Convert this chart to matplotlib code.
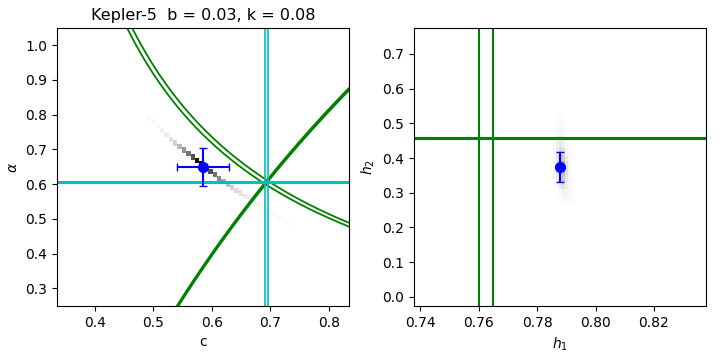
import numpy as np
import matplotlib.pyplot as plt

# Kepler-5 power-2 limb darkening: fitted values and table values
c_fit, c_err = 0.585, 0.044
alpha_fit, alpha_err = 0.649, 0.056
h1_fit, h1_err = 0.7879, 0.0008
h2_fit, h2_err = 0.374, 0.043

c_tab = [0.6903, 0.6955]       # cyan lines
alpha_tab = [0.6035, 0.6062]
h1_lines = [0.7603, 0.7648]    # green lines
h2_lines = [0.4548, 0.4565]

# posterior histogram in (c, alpha), one cell per column
band_c = [0.4925, 0.5000, 0.5075, 0.5150, 0.5225, 0.5300, 0.5375, 0.5450,
          0.5525, 0.5600, 0.5675, 0.5750, 0.5825, 0.5900, 0.5975, 0.6050,
          0.6125, 0.6200, 0.6275, 0.6350, 0.6425, 0.6500, 0.6575, 0.6650,
          0.6725, 0.6800, 0.6875, 0.6950, 0.7025, 0.7100, 0.7175, 0.7250,
          0.7325, 0.7400]
band_alpha = [0.792, 0.780, 0.768, 0.755, 0.742, 0.729, 0.718, 0.708,
              0.698, 0.688, 0.678, 0.668, 0.658, 0.648, 0.637, 0.627,
              0.616, 0.607, 0.599, 0.590, 0.582, 0.574, 0.565, 0.557,
              0.549, 0.541, 0.533, 0.525, 0.517, 0.509, 0.501, 0.494,
              0.486, 0.479]
band_w = [0.04, 0.06, 0.08, 0.11, 0.15, 0.20, 0.28, 0.38, 0.50, 0.62,
          0.75, 0.92, 1.00, 0.88, 0.76, 0.64, 0.54, 0.44, 0.36, 0.29,
          0.23, 0.19, 0.15, 0.12, 0.10, 0.08, 0.07, 0.06, 0.05, 0.04,
          0.035, 0.03, 0.025, 0.02]

# posterior histogram in (h1, h2), rows from bottom to top
h1_edges = [0.7855, 0.7865, 0.7875, 0.7885, 0.7895, 0.7905, 0.7915, 0.7925, 0.7935]
h2_edges = [0.27, 0.29, 0.31, 0.33, 0.35, 0.37, 0.39, 0.41, 0.43, 0.45,
            0.47, 0.49, 0.51, 0.53]
blob = [[0.00, 0.00, 0.02, 0.04, 0.05, 0.04, 0.02, 0.00],
        [0.00, 0.02, 0.06, 0.10, 0.09, 0.05, 0.03, 0.00],
        [0.02, 0.06, 0.16, 0.20, 0.13, 0.07, 0.03, 0.00],
        [0.04, 0.13, 0.30, 0.32, 0.18, 0.08, 0.03, 0.00],
        [0.06, 0.18, 0.40, 0.38, 0.22, 0.08, 0.02, 0.00],
        [0.07, 0.20, 0.42, 0.40, 0.20, 0.07, 0.02, 0.00],
        [0.06, 0.18, 0.35, 0.30, 0.15, 0.05, 0.01, 0.00],
        [0.05, 0.15, 0.26, 0.20, 0.09, 0.03, 0.00, 0.00],
        [0.04, 0.11, 0.18, 0.12, 0.05, 0.02, 0.00, 0.00],
        [0.03, 0.08, 0.12, 0.08, 0.03, 0.01, 0.00, 0.00],
        [0.02, 0.05, 0.08, 0.05, 0.02, 0.00, 0.00, 0.00],
        [0.01, 0.03, 0.05, 0.03, 0.01, 0.00, 0.00, 0.00],
        [0.00, 0.02, 0.03, 0.02, 0.00, 0.00, 0.00, 0.00]]

fig = plt.figure(figsize=(7.2, 3.6), dpi=100)
ax1 = fig.add_axes([0.079, 0.15, 0.406, 0.772])
ax2 = fig.add_axes([0.575, 0.15, 0.406, 0.772])

# left panel: c vs alpha, histogram cells drawn as bars
ax1.bar(band_c, 0.015, bottom=np.array(band_alpha) - 0.0075, width=0.0075,
        color=plt.cm.Greys(band_w), linewidth=0)

# constraint curves from h1 and h2 (power-2 law relations)
a = np.linspace(0.2, 1.1, 400)
for h1 in h1_lines:
    ax1.plot((1 - h1) / (1 - 2**-a), a, color='g', lw=1.3)
for h2 in h2_lines:
    ax1.plot(h2 * 2**a, a, color='g', lw=1.6)
for cc in c_tab:
    ax1.axvline(cc, color='c', lw=1.2)
for aa in alpha_tab:
    ax1.axhline(aa, color='c', lw=1.5)

ax1.errorbar(c_fit, alpha_fit, xerr=c_err, yerr=alpha_err, fmt='bo',
             ms=7, capsize=3, lw=1.5, zorder=5)
ax1.set_xlim(c_fit - 0.25, c_fit + 0.25)
ax1.set_ylim(alpha_fit - 0.4, alpha_fit + 0.4)
ax1.set_xlabel("c")
ax1.set_ylabel(r"$\alpha$")
ax1.set_title("Kepler-5  b = 0.03, k = 0.08", fontsize=11.5)

# right panel: h1 vs h2
ax2.pcolormesh(h1_edges, h2_edges, np.array(blob), cmap='Greys', vmin=0, vmax=1)
for h1 in h1_lines:
    ax2.axvline(h1, color='g', lw=1.5)
for h2 in h2_lines:
    ax2.axhline(h2, color='g', lw=1.5)
ax2.errorbar(h1_fit, h2_fit, xerr=h1_err, yerr=h2_err, fmt='bo',
             ms=7, capsize=3, lw=1.5, zorder=5)
ax2.set_xlim(h1_fit - 0.05, h1_fit + 0.05)
ax2.set_ylim(h2_fit - 0.4, h2_fit + 0.4)
ax2.set_xticks([0.74, 0.76, 0.78, 0.80, 0.82])
ax2.set_xlabel(r"$h_1$")
ax2.set_ylabel(r"$h_2$")

fig.savefig("out.png")
